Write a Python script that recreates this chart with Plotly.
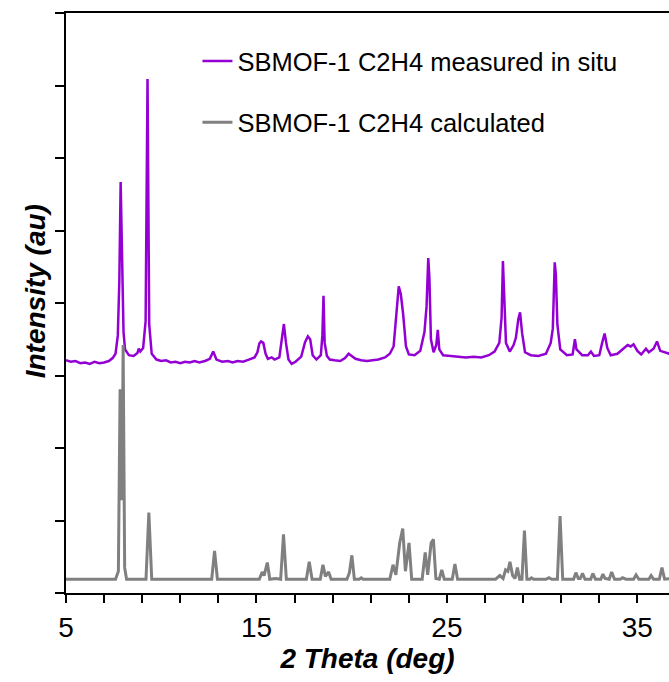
import plotly.graph_objects as go

# ---- data ----
measured_x = [5.00, 5.25, 5.5, 5.75, 6.0, 6.25, 6.5, 6.75, 7.0, 7.25, 7.45, 7.6, 7.72, 7.80, 7.87, 7.92, 7.96, 8.02, 8.10,
              8.3, 8.55, 8.75, 8.82, 8.9, 9.05, 9.18, 9.28, 9.37, 9.5, 9.75, 10.0, 10.25, 10.5, 10.75, 11.0, 11.25, 11.5,
              11.75, 12.0, 12.3, 12.55, 12.73, 12.9, 13.2, 13.5, 13.75, 14.0, 14.3, 14.6, 14.9, 15.05, 15.15, 15.24,
              15.36, 15.48, 15.6, 15.8, 15.95, 16.2, 16.33, 16.44, 16.55, 16.68, 16.85, 17.05, 17.35, 17.55, 17.70,
              17.82, 17.95, 18.15, 18.38, 18.46, 18.52, 18.58, 18.7, 18.85, 19.1, 19.4, 19.65, 19.84, 20.0, 20.2,
              20.5, 20.8, 21.1, 21.4, 21.75, 22.0, 22.2, 22.35, 22.47, 22.58, 22.7, 22.85, 23.0, 23.3, 23.6, 23.82,
              23.93, 24.02, 24.08, 24.16, 24.3, 24.44, 24.52, 24.6, 24.8, 25.2, 25.6, 26.0, 26.4, 26.8, 27.2, 27.5,
              27.75, 27.87, 27.94, 28.0, 28.1, 28.3, 28.5, 28.62, 28.75, 28.84, 28.95, 29.1, 29.4, 29.8, 30.2, 30.45,
              30.56, 30.66, 30.72, 30.80, 30.95, 31.3, 31.6, 31.72, 31.8, 31.92, 32.1, 32.4, 32.56, 32.72, 33.0,
              33.15, 33.28, 33.42, 33.6, 33.95, 34.25, 34.49, 34.65, 34.8, 35.0, 35.2, 35.45, 35.6, 35.85, 36.03,
              36.2, 36.5, 36.8]
measured_y = [3.21, 3.19, 3.20, 3.17, 3.18, 3.16, 3.19, 3.17, 3.18, 3.20, 3.24, 3.30, 3.55, 4.30, 5.67, 4.90, 4.64, 3.60, 3.36,
              3.28, 3.27, 3.31, 3.37, 3.33, 3.38, 3.75, 7.09, 3.70, 3.30, 3.22, 3.20, 3.21, 3.18, 3.19, 3.17, 3.19, 3.18,
              3.20, 3.18, 3.20, 3.23, 3.33, 3.22, 3.19, 3.20, 3.18, 3.20, 3.19, 3.22, 3.25, 3.32, 3.44, 3.47,
              3.45, 3.30, 3.23, 3.25, 3.22, 3.25, 3.48, 3.71, 3.45, 3.22, 3.16, 3.19, 3.26, 3.46, 3.54,
              3.50, 3.28, 3.22, 3.28, 3.55, 4.10, 3.45, 3.27, 3.22, 3.21, 3.20, 3.24, 3.30, 3.27, 3.23,
              3.21, 3.20, 3.21, 3.22, 3.25, 3.30, 3.40, 3.85, 4.23, 4.12, 3.85, 3.40, 3.29, 3.28, 3.34, 3.60,
              3.95, 4.62, 4.34, 3.50, 3.32, 3.42, 3.63, 3.36, 3.28, 3.27, 3.26, 3.25, 3.26, 3.25, 3.28, 3.33,
              3.45, 3.80, 4.58, 4.06, 3.45, 3.33, 3.42, 3.52, 3.78, 3.87, 3.58, 3.32, 3.28, 3.27, 3.30, 3.45,
              3.65, 4.56, 4.39, 3.70, 3.36, 3.28, 3.29, 3.50, 3.36, 3.33, 3.28, 3.28, 3.33, 3.27, 3.28,
              3.45, 3.58, 3.38, 3.28, 3.30, 3.37, 3.42, 3.40, 3.43, 3.34, 3.29, 3.37, 3.32, 3.37, 3.47,
              3.34, 3.31, 3.29]

calculated_x = [5.0, 7.6, 7.75, 7.81, 7.84, 7.9, 7.94, 8.0, 8.08, 8.18, 9.2, 9.35, 9.5, 12.65, 12.8, 12.95, 15.15, 15.3,
                15.4, 15.57, 15.7, 16.0, 16.27, 16.42, 16.57, 17.62, 17.77, 17.92, 18.35, 18.49, 18.62, 18.79, 18.92,
                19.75, 19.88, 20.01, 20.14, 20.4, 20.5, 20.6, 22.0, 22.17, 22.32, 22.52, 22.68, 22.82, 23.01, 23.15,
                23.7, 23.86, 23.99, 24.17, 24.29, 24.42, 24.6, 24.73, 24.86, 25.28, 25.42, 25.56, 27.55, 27.78, 27.95,
                28.08, 28.2, 28.31, 28.45, 28.58, 28.7, 28.82, 28.94, 29.07, 29.2, 29.35, 29.44, 29.55, 30.2, 30.36,
                30.5, 30.8, 30.94, 31.08, 31.65, 31.77, 31.9, 32.0, 32.12, 32.25, 32.55, 32.66, 32.8, 33.08, 33.19,
                33.3, 33.52, 33.65, 33.8, 34.1, 34.22, 34.4, 34.8, 34.93, 35.08, 35.6, 35.72, 35.85, 36.15, 36.29,
                36.43, 36.8]
calculated_y = [0.19, 0.19, 0.30, 2.70, 2.81, 1.40, 1.28, 3.42, 0.35, 0.19, 0.19, 1.11, 0.19, 0.19, 0.58, 0.19, 0.19, 0.29,
                0.24, 0.42, 0.19, 0.20, 0.19, 0.81, 0.19, 0.19, 0.43, 0.19, 0.19, 0.39, 0.23, 0.29, 0.19,
                0.19, 0.28, 0.52, 0.19, 0.19, 0.21, 0.19, 0.19, 0.39, 0.25, 0.69, 0.89, 0.30, 0.69, 0.19,
                0.19, 0.56, 0.25, 0.69, 0.74, 0.20, 0.19, 0.32, 0.19, 0.19, 0.40, 0.19, 0.19, 0.24, 0.20,
                0.32, 0.30, 0.43, 0.24, 0.20, 0.35, 0.19, 0.19, 0.86, 0.19, 0.19, 0.21, 0.19, 0.19, 0.21,
                0.19, 0.19, 1.06, 0.19, 0.19, 0.28, 0.20, 0.20, 0.27, 0.19, 0.19, 0.27, 0.19, 0.19, 0.26,
                0.20, 0.19, 0.29, 0.19, 0.19, 0.21, 0.19, 0.19, 0.25, 0.19, 0.19, 0.24, 0.19, 0.19, 0.35,
                0.19, 0.20]

series_names = ["SBMOF-1 C2H4 measured in situ", "SBMOF-1 C2H4 calculated"]
x_tick_values = [5, 7, 9, 11, 13, 15, 17, 19, 21, 23, 25, 27, 29, 31, 33, 35]
x_tick_labels = ["5", "", "", "", "", "15", "", "", "", "", "25", "", "", "", "", "35"]
y_tick_values = [0, 1, 2, 3, 4, 5, 6, 7, 8]
x_title = "2 Theta (deg)"
y_title = "Intensity (au)"

FONT = "Arial, Liberation Sans, sans-serif"

fig = go.Figure()
fig.add_trace(go.Scatter(x=measured_x, y=measured_y, mode="lines", name=series_names[0],
                         line=dict(color="#9400D3", width=2.5), legendgroup="a"))
fig.add_trace(go.Scatter(x=calculated_x, y=calculated_y, mode="lines", name=series_names[1],
                         line=dict(color="#808080", width=3), legendgroup="b"))

fig.update_layout(
    width=669, height=682,
    margin=dict(l=66, r=0, t=13, b=89),
    paper_bgcolor="white", plot_bgcolor="white",
    font=dict(family=FONT, color="black"),
    showlegend=True,
    legend=dict(x=0.218, y=0.957, xanchor="left", yanchor="top", bgcolor="rgba(0,0,0,0)",
                font=dict(size=25.5, family=FONT, color="black"), tracegroupgap=25,
                itemwidth=30),
    annotations=[dict(text="<b><i>" + y_title + "</i></b>", textangle=-90,
                      xref="paper", yref="paper", x=0, y=0.521, xanchor="right", yanchor="middle",
                      xshift=-13, showarrow=False,
                      font=dict(size=28, family=FONT, color="black"))],
)
fig.update_xaxes(
    range=[5, 36.66], tickmode="array", tickvals=x_tick_values, ticktext=x_tick_labels,
    ticks="outside", ticklen=8, tickwidth=2, tickcolor="black",
    showline=True, linewidth=2, linecolor="black", mirror=True,
    showgrid=False, zeroline=False,
    tickfont=dict(size=28, family=FONT, color="black"),
    title=dict(text="<b><i>" + x_title + "</i></b>", font=dict(size=28, family=FONT, color="black"), standoff=6),
)
fig.update_yaxes(
    range=[0, 8], tickmode="array", tickvals=y_tick_values, showticklabels=False,
    ticks="outside", ticklen=9, tickwidth=2, tickcolor="black",
    showline=True, linewidth=2, linecolor="black", mirror=False,
    showgrid=False, zeroline=False,
)

fig.write_html("out.html")
